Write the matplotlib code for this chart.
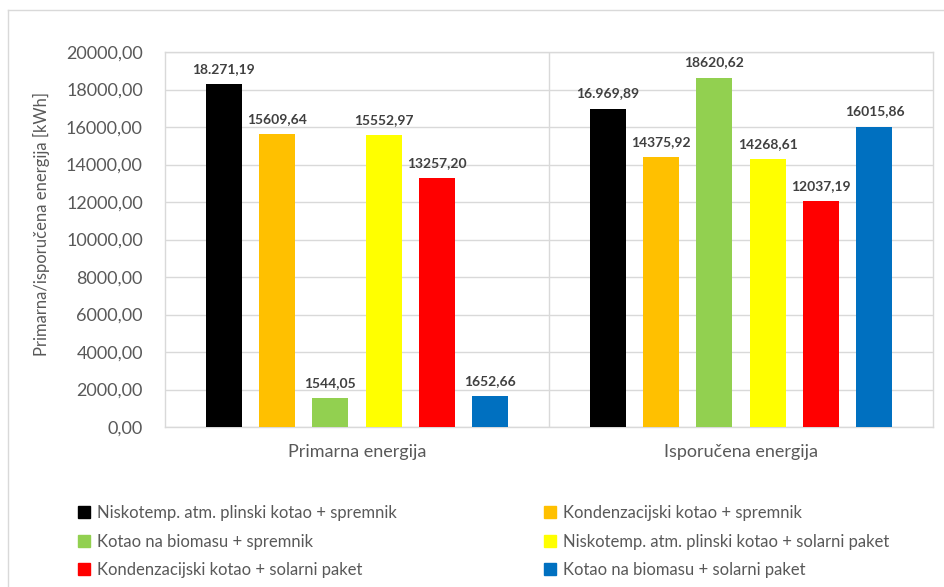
import numpy as np
import matplotlib
matplotlib.use('Agg')
import matplotlib.pyplot as plt
from matplotlib.lines import Line2D

plt.rcParams['font.family'] = ['Lato', 'DejaVu Sans']

categories = ['Primarna energija', 'Isporučena energija']
series = ['Niskotemp. atm. plinski kotao + spremnik',
          'Kondenzacijski kotao + spremnik',
          'Kotao na biomasu + spremnik',
          'Niskotemp. atm. plinski kotao + solarni paket',
          'Kondenzacijski kotao + solarni paket',
          'Kotao na biomasu + solarni paket']
colors = ['#000000', '#FFC000', '#92D050', '#FFFF00', '#FF0000', '#0070C0']
values = [[18271.19, 16969.89],
          [15609.64, 14375.92],
          [1544.05, 18620.62],
          [15552.97, 14268.61],
          [13257.20, 12037.19],
          [1652.66, 16015.86]]
labels = [['18.271,19', '16.969,89'],
          ['15609,64', '14375,92'],
          ['1544,05', '18620,62'],
          ['15552,97', '14268,61'],
          ['13257,20', '12037,19'],
          ['1652,66', '16015,86']]
yticks = np.arange(0, 20001, 2000)

fig = plt.figure(figsize=(9.45, 5.87), dpi=100)
ax = fig.add_axes([165/945, 1-427/587, (933-165)/945, (427-52)/587])

x = np.arange(len(categories))
step = 0.139
width = 0.094
grid_c = '#d9d9d9'
for i, (name, col) in enumerate(zip(series, colors)):
    pos = x + (i - 2.5) * step
    ax.bar(pos, values[i], width=width, color=col, zorder=3, label=name)
    for p, v, t in zip(pos, values[i], labels[i]):
        ax.text(p, v + 500, t, ha='center', va='bottom', fontsize=10,
                fontweight='bold', color='#404040', zorder=4)

ax.set_xlim(-0.5, 1.5)
ax.set_ylim(0, 20000)
ax.set_yticks(yticks)
ax.set_yticklabels(['%d,00' % v for v in yticks], fontsize=13, color='#595959')
ax.set_xticks(x)
ax.set_xticklabels(categories, fontsize=13, color='#595959')
ax.tick_params(length=0, axis='y', pad=16)
ax.tick_params(length=0, axis='x', pad=12)
ax.yaxis.grid(True, color=grid_c, linewidth=1, zorder=0)
ax.axvline(0.5, color=grid_c, linewidth=1, zorder=0)
for s in ax.spines.values():
    s.set_color(grid_c)
    s.set_linewidth(1)
ax.set_ylabel('Primarna/isporučena energija [kWh]', fontsize=12, color='#595959')
ax.yaxis.set_label_coords(-0.15, 0.54)

# outer chart border
fig.add_artist(Line2D([8/945, 8/945], [0, 1-10/587], color=grid_c, linewidth=1))
fig.add_artist(Line2D([8/945, 1], [1-10/587, 1-10/587], color=grid_c, linewidth=1))

handles = [Line2D([], [], marker='s', linestyle='none', markersize=9,
                  markerfacecolor=c, markeredgecolor=c) for c in colors]
order = [0, 2, 4, 1, 3, 5]
fig.legend([handles[k] for k in order], [series[k] for k in order],
           loc='upper left', bbox_to_anchor=(62/945, 1-490/587), ncol=2,
           frameon=False, fontsize=12, labelcolor='#595959',
           handlelength=0.8, handletextpad=0.4, columnspacing=8.8,
           labelspacing=0.75)

fig.savefig('out.png', dpi=100)
